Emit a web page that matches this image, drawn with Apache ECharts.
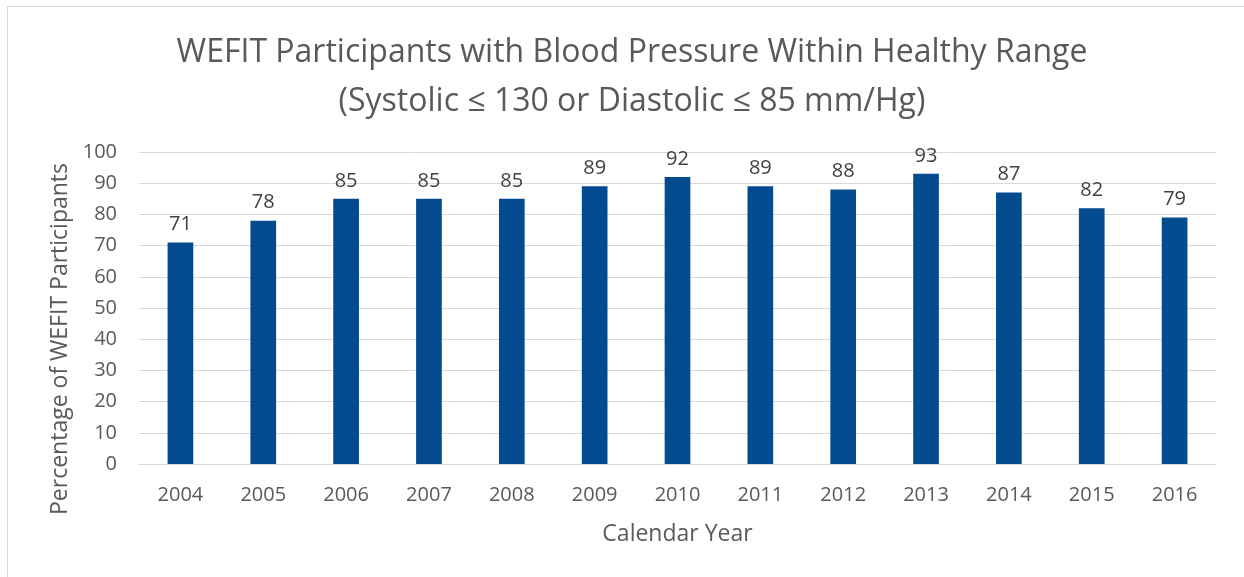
<!DOCTYPE html>
<html>
<head>
<meta charset="utf-8">
<script src="https://cdn.jsdelivr.net/npm/echarts@6/dist/echarts.min.js"></script>
<style>
  html, body { margin: 0; padding: 0; background: #fff; }
  #chart { width: 1244px; height: 577px; }
</style>
</head>
<body>
<div id="chart"></div>
<script>
const years = ['2004', '2005', '2006', '2007', '2008', '2009', '2010', '2011', '2012', '2013', '2014', '2015', '2016'];
const pctHealthy = [71, 78, 85, 85, 85, 89, 92, 89, 88, 93, 87, 82, 79];
const yTicks = { min: 0, max: 100, interval: 10 };

let myChart = echarts.init(document.getElementById('chart'));
const font = '"Open Sans", sans-serif';

const option = {
    animation: false,
    backgroundColor: '#fff',
    textStyle: { fontFamily: font },
    title: {
        text: 'WEFIT Participants with Blood Pressure Within Healthy Range\n(Systolic \u2264 130 or Diastolic \u2264 85 mm/Hg)',
        left: 627,
        top: 23,
        textAlign: 'center',
        textStyle: {
            fontFamily: font,
            fontSize: 32,
            fontWeight: 'normal',
            color: '#595959',
            lineHeight: 49
        }
    },
    graphic: [{
        type: 'rect',
        shape: { x: 7.5, y: 6.5, width: 1240, height: 580 },
        style: { fill: 'none', stroke: '#d9d9d9', lineWidth: 1 },
        silent: true
    }],
    grid: { left: 139, right: 28, top: 152, bottom: 113 },
    xAxis: {
        type: 'category',
        data: years,
        name: 'Calendar Year',
        nameLocation: 'middle',
        nameGap: 59,
        nameTextStyle: { fontSize: 23, color: '#595959' },
        axisLine: { lineStyle: { color: '#d9d9d9' } },
        axisTick: { show: false },
        axisLabel: { fontSize: 20, color: '#595959', margin: 21 }
    },
    yAxis: {
        type: 'value',
        min: yTicks.min,
        max: yTicks.max,
        interval: yTicks.interval,
        name: 'Percentage of WEFIT Participants',
        nameLocation: 'middle',
        nameGap: 67,
        nameTextStyle: { fontSize: 23, color: '#595959', padding: [0, 62, 0, 0] },
        axisLine: { show: false },
        axisTick: { show: false },
        axisLabel: { fontSize: 20, color: '#595959', margin: 22 },
        splitLine: { lineStyle: { color: '#d9d9d9', width: 1 } }
    },
    series: [{
        type: 'bar',
        data: pctHealthy,
        barWidth: '31%',
        itemStyle: { color: '#044a8f' },
        label: {
            show: true,
            position: 'top',
            distance: 8,
            fontSize: 20,
            color: '#404040'
        }
    }]
};
myChart.setOption(option);
</script>
</body>
</html>
